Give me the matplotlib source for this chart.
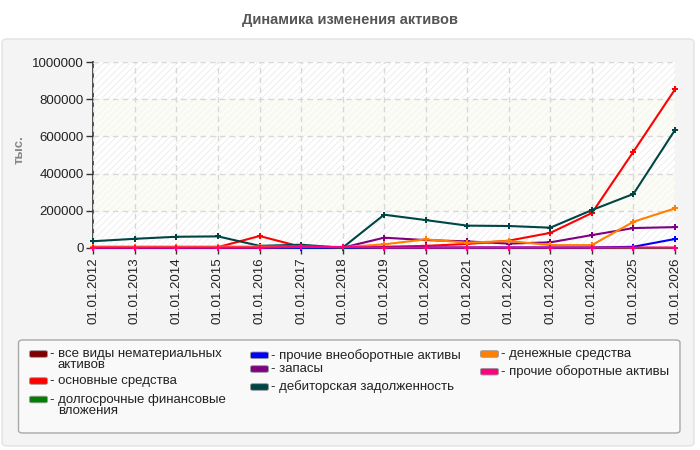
import matplotlib
matplotlib.use("Agg")
import matplotlib.pyplot as plt
from matplotlib.patches import FancyBboxPatch
import numpy as np

plt.rcParams['font.family'] = ['Liberation Sans', 'DejaVu Sans']
plt.rcParams['hatch.linewidth'] = 0.6

dates = ["01.01.2012", "01.01.2013", "01.01.2014", "01.01.2015", "01.01.2016",
         "01.01.2017", "01.01.2018", "01.01.2019", "01.01.2020", "01.01.2021",
         "01.01.2022", "01.01.2023", "01.01.2024", "01.01.2025", "01.01.2026"]

intangible = [0, 0, 0, 0, 0, 0, 0, 0, 0, 0, 0, 0, 0, 0, 0]
fixed_assets = [3000, 3000, 3000, 3000, 63000, 5000, 0, 5000, 10000, 20000, 38000, 80000, 187000, 518000, 854000]
lt_investments = [0, 0, 0, 0, 0, 0, 0, 0, 0, 0, 0, 0, 0, 0, 0]
other_noncurrent = [0, 0, 0, 0, 0, 0, 0, 1000, 1000, 1000, 1000, 1000, 1000, 5000, 47000]
inventories = [0, 0, 0, 0, 0, 8000, 0, 54000, 41000, 34000, 22000, 29000, 68000, 106000, 111000]
receivables = [35000, 48000, 59000, 61000, 10000, 16000, 0, 178000, 149000, 119000, 117000, 108000, 203000, 290000, 635000]
cash = [6000, 6000, 6000, 6000, 6000, 6000, 3000, 18000, 45000, 27000, 36000, 14000, 14000, 140000, 212000]
other_current = [1000, 1000, 1000, 1000, 1000, 4000, 4000, 1000, 1000, 1000, 1000, 1000, 1000, 1000, 1000]

series = [
    ("все виды нематериальных\nактивов", intangible, "#800000"),
    ("основные средства", fixed_assets, "#ff0000"),
    ("долгосрочные финансовые\nвложения", lt_investments, "#008000"),
    ("прочие внеоборотные активы", other_noncurrent, "#0000ff"),
    ("запасы", inventories, "#800080"),
    ("дебиторская задолженность", receivables, "#004545"),
    ("денежные средства", cash, "#ff8000"),
    ("прочие оборотные активы", other_current, "#ff007f"),
]

W, H = 700, 450
fig = plt.figure(figsize=(7, 4.5), dpi=100)
fig.patch.set_facecolor("white")

def fx(px):
    return px / W

def fy(py):
    return 1 - py / H

# background panel
panel = FancyBboxPatch((fx(2), fy(446)), fx(692), (446 - 39) / H,
                       boxstyle="round,pad=0,rounding_size=0.008",
                       transform=fig.transFigure, facecolor="#f4f4f4",
                       edgecolor="#e2e2e2", linewidth=1, zorder=-5)
fig.patches.append(panel)

fig.text(0.5, fy(20), "Динамика изменения активов", ha="center", va="center",
         fontsize=10.5, fontweight="bold", color="#555555")

ax = fig.add_axes([fx(93.3), fy(247.7), fx(675 - 93.3), (247.7 - 62.3) / H])
ax.set_zorder(2)
ax.set_facecolor("white")
x = np.arange(len(dates))
ax.set_xlim(0, len(dates) - 1)
ax.set_ylim(0, 1000000)

# background bands
for i, (lo, hi) in enumerate([(0, 200000), (200000, 400000), (400000, 600000),
                              (600000, 800000), (800000, 1000000)]):
    if i % 2 == 0:
        ax.axhspan(lo, hi, facecolor="white", edgecolor="#ebebeb", hatch="/////",
                   linewidth=0, zorder=0)
    else:
        ax.axhspan(lo, hi, facecolor="#fcfcf6", edgecolor="#f4f4f0", hatch="/////",
                   linewidth=0, zorder=0)

ax.grid(True, color="#d8d8d8", linestyle=(0, (4, 3)), linewidth=1, zorder=1)
ax.set_axisbelow(False)

for label, vals, color in series:
    ax.plot(x, vals, color=color, linewidth=1.5, marker="P", markersize=4,
            markeredgewidth=0, zorder=3, clip_on=False)

ax.set_xticks(x)
ax.set_xticklabels(dates, rotation=90, fontsize=9.5, color="#222222")
ax.set_yticks([0, 200000, 400000, 600000, 800000, 1000000])
ax.set_yticklabels(["0", "200000", "400000", "600000", "800000", "1000000"],
                   fontsize=9.5, color="#222222")
ax.tick_params(axis="y", length=5, width=1, color="#333333", pad=2)
ax.tick_params(axis="x", length=4, width=1, color="#333333", pad=3)
for s in ["top", "right", "bottom"]:
    ax.spines[s].set_visible(False)
ax.spines["left"].set_color("#333333")
ax.spines["left"].set_linewidth(1.2)

fig.text(fx(19.5), fy(150), "тыс.", rotation=90, ha="center", va="center",
         fontsize=9.5, fontweight="bold", color="#888888")

# legend box
lb = FancyBboxPatch((fx(18.5), fy(433)), fx(680 - 18.5), (433 - 340) / H,
                    boxstyle="round,pad=0,rounding_size=0.006",
                    transform=fig.transFigure, facecolor="#f9f9f9",
                    edgecolor="#a8a8a8", linewidth=1, zorder=1)
fig.patches.append(lb)

legend_pos = [
    (29.5, 354), (29.5, 381), (29.5, 399.5),
    (250.5, 355.3), (250.5, 369), (250.5, 387),
    (480.5, 354), (480.5, 371.7),
]
for (label, vals, color), (lx, ly) in zip(series, legend_pos):
    sw = FancyBboxPatch((fx(lx), fy(ly + 3.3)), fx(18), 6.6 / H,
                        boxstyle="round,pad=0,rounding_size=0.003",
                        transform=fig.transFigure, facecolor=color,
                        edgecolor="#999999", linewidth=0.6, zorder=2)
    fig.patches.append(sw)
    lines = label.split("\n")
    fig.text(fx(lx + 20.5), fy(ly), "- " + lines[0], ha="left", va="center",
             fontsize=9.5, color="#222222")
    if len(lines) > 1:
        fig.text(fx(lx + 28.5), fy(ly + 11.5), lines[1], ha="left", va="center",
                 fontsize=9.5, color="#222222")

fig.savefig("out.png", dpi=100, facecolor="white")
